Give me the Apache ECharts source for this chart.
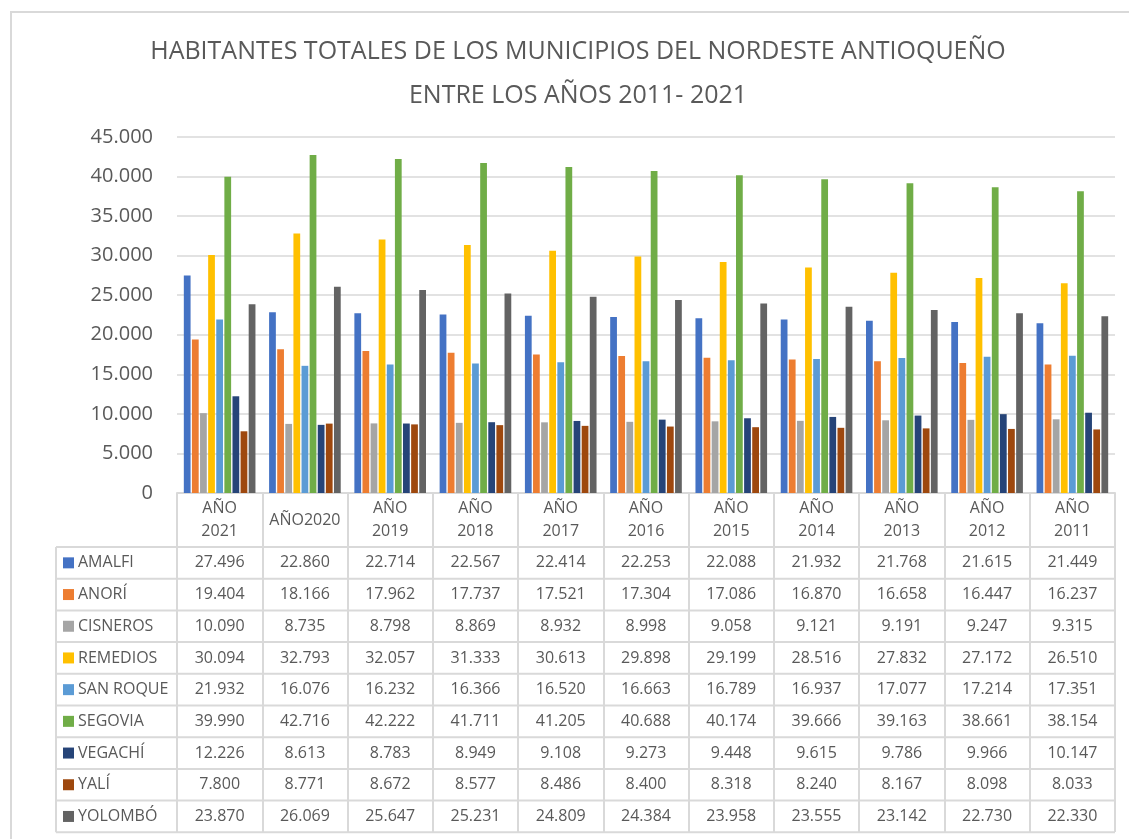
<!DOCTYPE html>
<html>
<head>
<meta charset="utf-8">
<title>Habitantes Nordeste Antioqueño</title>
<script src="https://cdn.jsdelivr.net/npm/echarts@6/dist/echarts.min.js"></script>
<style>
	html, body { margin: 0; padding: 0; background: #fff; }
	#main { width: 1129px; height: 839px; }
</style>
</head>
<body>
<div id="main"></div>
<script>
// datos
let years = ['AÑO 2021', 'AÑO2020', 'AÑO 2019', 'AÑO 2018', 'AÑO 2017', 'AÑO 2016', 'AÑO 2015', 'AÑO 2014', 'AÑO 2013', 'AÑO 2012', 'AÑO 2011']
let municipios = ['AMALFI', 'ANORÍ', 'CISNEROS', 'REMEDIOS', 'SAN ROQUE', 'SEGOVIA', 'VEGACHÍ', 'YALÍ', 'YOLOMBÓ']

let amalfi = [27496, 22860, 22714, 22567, 22414, 22253, 22088, 21932, 21768, 21615, 21449]
let anori = [19404, 18166, 17962, 17737, 17521, 17304, 17086, 16870, 16658, 16447, 16237]
let cisneros = [10090, 8735, 8798, 8869, 8932, 8998, 9058, 9121, 9191, 9247, 9315]
let remedios = [30094, 32793, 32057, 31333, 30613, 29898, 29199, 28516, 27832, 27172, 26510]
let sanRoque = [21932, 16076, 16232, 16366, 16520, 16663, 16789, 16937, 17077, 17214, 17351]
let segovia = [39990, 42716, 42222, 41711, 41205, 40688, 40174, 39666, 39163, 38661, 38154]
let vegachi = [12226, 8613, 8783, 8949, 9108, 9273, 9448, 9615, 9786, 9966, 10147]
let yali = [7800, 8771, 8672, 8577, 8486, 8400, 8318, 8240, 8167, 8098, 8033]
let yolombo = [23870, 26069, 25647, 25231, 24809, 24384, 23958, 23555, 23142, 22730, 22330]

let valores = [amalfi, anori, cisneros, remedios, sanRoque, segovia, vegachi, yali, yolombo]
let colores = ['#4472C4', '#ED7D31', '#A5A5A5', '#FFC000', '#5B9BD5', '#70AD47', '#264478', '#9E480E', '#636363']

let titulo = 'HABITANTES TOTALES DE LOS MUNICIPIOS DEL NORDESTE ANTIOQUEÑO\nENTRE LOS AÑOS 2011- 2021'

let fuente = '"Open Sans", sans-serif'
let gris = '#595959'
let linea = '#d9d9d9'

let myChart
let chartOption

// formato 27.496
function fmt(v) {
	return String(v).replace(/\B(?=(\d{3})+(?!\d))/g, '.')
}

function init() {
	myChart = echarts.init(document.getElementById('main'))

	let series = []
	for (let i = 0; i < municipios.length; i++) {
		series.push({
			name: municipios[i],
			type: 'bar',
			data: valores[i],
			itemStyle: { color: colores[i] },
			barGap: '20%',
			barCategoryGap: '16%'
		})
	}

	chartOption = {
		animation: false,
		textStyle: { fontFamily: fuente },
		grid: { left: 177, right: 14, top: 137, bottom: 346 },
		xAxis: {
			type: 'category',
			data: years,
			axisLine: { lineStyle: { color: linea, width: 2 } },
			axisTick: { show: true, interval: 0, length: 339, lineStyle: { color: linea, width: 2 } },
			axisLabel: {
				interval: 0,
				margin: 27,
				verticalAlign: 'middle',
				fontSize: 16,
				lineHeight: 23,
				color: gris,
				formatter: function(v) { return v.replace(' ', '\n') }
			}
		},
		yAxis: {
			type: 'value',
			min: 0,
			max: 45000,
			interval: 5000,
			axisLine: { show: false },
			axisTick: { show: false },
			splitLine: { lineStyle: { color: linea, width: 1.5 } },
			axisLabel: { fontSize: 20, color: gris, margin: 24, formatter: fmt }
		},
		series: series
	}
	myChart.setOption(chartOption)

	addTable()
}

// tabla de datos debajo del grafico
function addTable() {
	let y0 = myChart.convertToPixel({ yAxisIndex: 0 }, 0)
	let top = y0 + 54
	let rowH = 31.7
	let left = 56
	let right = 1115
	let els = []

	// marco exterior
	els.push({ type: 'rect', shape: { x: 11, y: 12, width: 1140, height: 850 }, style: { fill: 'none', stroke: linea, lineWidth: 2 }, silent: true })

	// titulo
	els.push({
		type: 'text', x: 578, y: 74,
		style: { text: titulo, align: 'center', verticalAlign: 'middle', font: '25px ' + fuente, fill: gris, lineHeight: 44 }
	})

	for (let r = 0; r <= municipios.length; r++) {
		let y = top + r * rowH
		els.push({ type: 'line', shape: { x1: left, y1: y, x2: right, y2: y }, style: { stroke: linea, lineWidth: 2 } })
	}
	els.push({ type: 'line', shape: { x1: left, y1: top, x2: left, y2: top + rowH * municipios.length }, style: { stroke: linea, lineWidth: 2 } })

	for (let r = 0; r < municipios.length; r++) {
		let cy = top + r * rowH + rowH / 2
		els.push({ type: 'rect', shape: { x: 63, y: cy - 5.5, width: 11, height: 11 }, style: { fill: colores[r] } })
		els.push({
			type: 'text', x: 78, y: cy,
			style: { text: municipios[r], verticalAlign: 'middle', font: '16px ' + fuente, fill: gris }
		})
		for (let c = 0; c < years.length; c++) {
			let cx = myChart.convertToPixel({ xAxisIndex: 0 }, years[c])
			els.push({
				type: 'text', x: cx, y: cy,
				style: { text: fmt(valores[r][c]), align: 'center', verticalAlign: 'middle', font: '16px ' + fuente, fill: gris }
			})
		}
	}

	myChart.setOption({ graphic: { elements: els } })
}

init()
</script>
</body>
</html>
